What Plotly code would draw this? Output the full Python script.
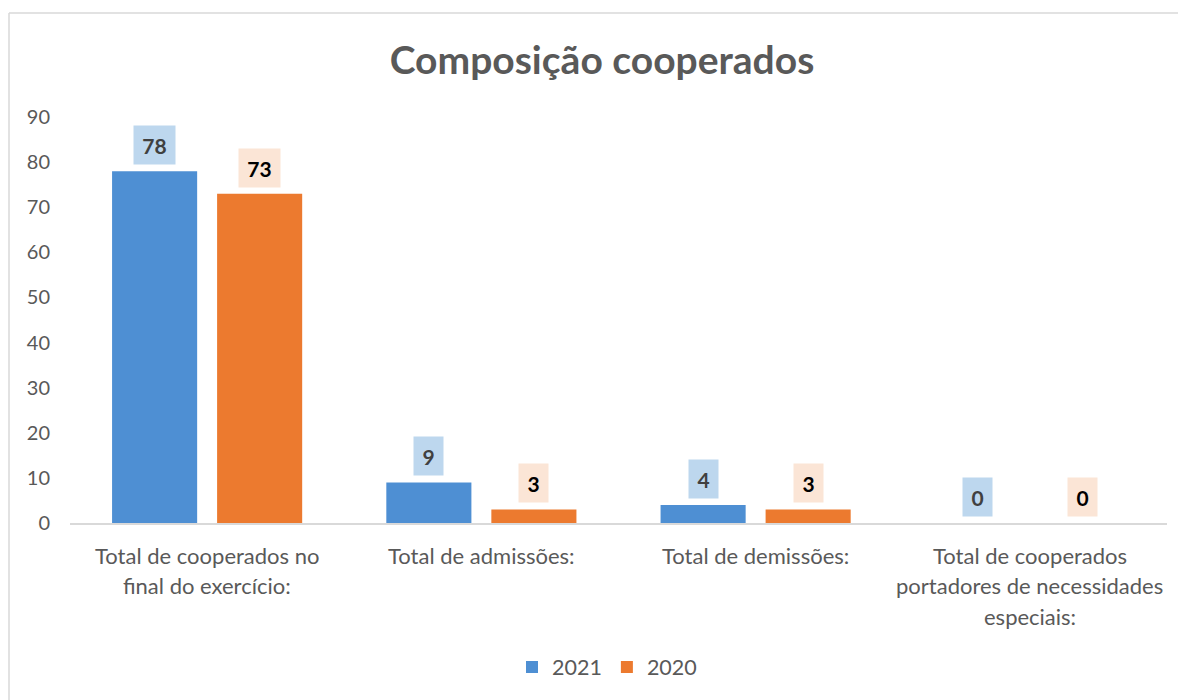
import plotly.graph_objects as go

categories = [
    "Total de cooperados no final do exercício:",
    "Total de admissões:",
    "Total de demissões:",
    "Total de cooperados portadores de necessidades especiais:",
]
category_lines = [
    ["Total de cooperados no", "final do exercício:"],
    ["Total de admissões:"],
    ["Total de demissões:"],
    ["Total de cooperados", "portadores de necessidades", "especiais:"],
]
values_2021 = [78, 9, 4, 0]
values_2020 = [73, 3, 3, 0]
y_ticks = [0, 10, 20, 30, 40, 50, 60, 70, 80, 90]

FONT = "Lato, 'Open Sans', sans-serif"
GRAY = "#595959"
BLUE = "#4E8FD3"
ORANGE = "#EC7A2F"

# page body has an 8px offset; work in page coordinates
OFF = 8
W, H = 1186 - OFF, 700 - OFF
PL, PR, PT, PB = 70, 1167, 117, 523  # plot area in page coords
PW, PH = PR - PL, PB - PT


def px_x(x):
    return (x - PL) / PW


def px_y(y):
    return (PB - y) / PH


fig = go.Figure()
fig.add_trace(go.Bar(x=categories, y=values_2021, name="2021", marker=dict(color=BLUE, line=dict(width=0))))
fig.add_trace(go.Bar(x=categories, y=values_2020, name="2020", marker=dict(color=ORANGE, line=dict(width=0))))

annotations = []
for cat, v in zip(categories, values_2021):
    annotations.append(dict(
        x=cat, y=v, xref="x", yref="y", text=f"<b>{v}</b>", showarrow=False,
        xshift=-52.5, yanchor="bottom", yshift=6, bgcolor="#BDD7EE",
        font=dict(family=FONT, size=21, color="#404040"),
        width=27 if v >= 10 else 15, height=24, borderpad=7,
    ))
for cat, v in zip(categories, values_2020):
    annotations.append(dict(
        x=cat, y=v, xref="x", yref="y", text=f"<b>{v}</b>", showarrow=False,
        xshift=52.5, yanchor="bottom", yshift=6, bgcolor="#FBE5D6",
        font=dict(family=FONT, size=21, color="#000000"),
        width=27 if v >= 10 else 15, height=24, borderpad=7,
    ))
for cat, lines in zip(categories, category_lines):
    for i, line in enumerate(lines):
        annotations.append(dict(
            x=cat, y=0, xref="x", yref="y", text=line, showarrow=False,
            yanchor="middle", yshift=-32 - i * 30.5,
            font=dict(family=FONT, size=22, color=GRAY),
        ))

border = dict(color="#D9D9D9", width=1.5)
fig.update_layout(
    width=W, height=H,
    margin=dict(l=PL - OFF, r=W - (PR - OFF), t=PT - OFF, b=H - (PB - OFF)),
    paper_bgcolor="white", plot_bgcolor="white",
    title=dict(text="<b>Composição cooperados</b>", x=(602 - OFF) / W, xanchor="center",
               y=1 - (60 - OFF) / H, yanchor="middle", xref="container", yref="container",
               font=dict(family=FONT, size=39, color=GRAY)),
    barmode="group", bargap=0.234, bargroupgap=0.19,
    xaxis=dict(showticklabels=False, showline=True, linecolor="#D9D9D9", linewidth=2,
               ticks="", showgrid=False, zeroline=False),
    yaxis=dict(range=[0, 90], tickvals=y_ticks, showgrid=False, zeroline=False,
               showline=False, ticks="", ticklabelstandoff=19,
               tickfont=dict(family=FONT, size=20, color=GRAY)),
    legend=dict(orientation="h", x=px_x(607), xanchor="center", y=px_y(667),
                yanchor="middle", font=dict(family=FONT, size=21.5, color=GRAY),
                itemwidth=30, traceorder="normal"),
    annotations=annotations,
    shapes=[
        dict(type="line", xref="paper", yref="paper", x0=px_x(9), x1=px_x(1186),
             y0=px_y(13), y1=px_y(13), line=border, layer="below"),
        dict(type="line", xref="paper", yref="paper", x0=px_x(9), x1=px_x(9),
             y0=px_y(13), y1=px_y(700), line=border, layer="below"),
    ],
)

fig.write_html("out.html")
